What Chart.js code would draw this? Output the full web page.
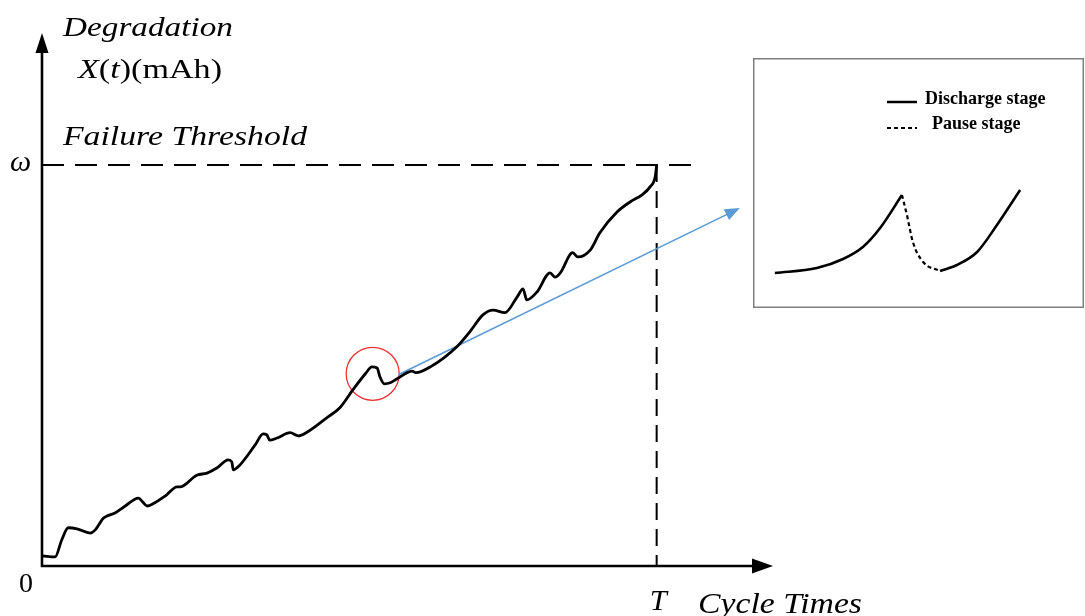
<!DOCTYPE html>
<html>
<head>
<meta charset="utf-8">
<script src="https://cdn.jsdelivr.net/npm/chart.js@4.4.1/dist/chart.umd.min.js"></script>
<style>
  html, body { margin: 0; padding: 0; background: #fff; overflow: hidden; }
  #wrap { position: relative; width: 1085px; height: 616px; }
  #main { position: absolute; left: 0; top: 0; }
  #inset { position: absolute; left: 753px; top: 58px; }
</style>
</head>
<body>
<div id="wrap">
  <canvas id="main" width="1085" height="616"></canvas>
  <canvas id="inset" width="331" height="250"></canvas>
</div>
<script>
// main degradation path (cycle units 0-100, degradation units 0-100)
const cycles = [0.1, 1.8, 2.7, 3.6, 4.8, 6.6, 7.3, 8.4, 8.9, 10.0, 11.4, 13.2, 13.7, 14.4, 15.2,
  16.9, 18.5, 18.9, 21.2, 22.6, 24.0, 25.5, 26.0, 26.2, 27.1, 29.2, 30.3, 30.8, 31.2, 32.2,
  34.0, 35.1, 36.3, 39.0, 40.8, 42.6, 44.3, 45.2, 45.9, 46.3, 46.9, 47.7, 48.8, 50.0, 50.7,
  51.2, 53.2, 56.9, 58.6, 60.4, 61.8, 63.4, 65.1, 65.9, 66.4, 67.8, 69.6, 70.3, 71.0, 72.7,
  73.4, 75.1, 76.4, 78.8, 80.6, 82.2, 83.3, 84.0, 84.2];
const degradation = [1.9, 1.7, 4.9, 7.2, 7.0, 6.2, 6.8, 9.0, 9.4, 10.0, 11.3, 12.8, 12.2, 11.3, 11.7,
  13.2, 14.9, 14.9, 17.1, 17.5, 18.5, 20.0, 19.6, 18.1, 19.0, 22.8, 24.9, 24.7, 23.7, 24.1,
  25.1, 24.5, 25.2, 27.9, 29.8, 33.2, 36.2, 37.5, 37.3, 35.6, 34.3, 34.5, 35.4, 36.4, 36.7,
  36.4, 37.5, 41.4, 44.1, 47.3, 48.2, 47.7, 50.7, 52.2, 50.1, 51.6, 55.2, 54.4, 55.2, 59.0,
  58.2, 59.5, 62.7, 66.7, 68.6, 69.9, 71.4, 73.3, 75.5];
const threshold = 75.5;     // omega
const failureCycle = 84.2;  // T

// inset sketch (its own 0-100 units)
const dischargeAX = [6.6, 19.3, 27.2, 33.2, 38.4, 45.0];
const dischargeAY = [14.0, 16.0, 19.6, 24.4, 32.0, 45.2];
const pauseX = [45.0, 46.5, 48.3, 51.4, 56.5];
const pauseY = [45.2, 37.2, 26.4, 18.4, 14.8];
const dischargeBX = [56.5, 61.6, 67.7, 73.7, 80.7];
const dischargeBY = [14.8, 17.2, 22.4, 33.2, 47.2];

const pts = (xs, ys) => xs.map((x, i) => ({ x: x, y: ys[i] }));
const serif = '"Liberation Serif", "Times New Roman", serif';

function arrowHead(ctx, tipX, tipY, angle, len, half) {
    ctx.save();
    ctx.translate(tipX, tipY);
    ctx.rotate(angle);
    ctx.beginPath();
    ctx.moveTo(0, 0);
    ctx.lineTo(-len, -half);
    ctx.lineTo(-len, half);
    ctx.closePath();
    ctx.fill();
    ctx.restore();
}

// draw runs of [text, italic] stretched sideways to a given width
function stretched(ctx, runs, x, base, size, width) {
    const fontOf = it => (it ? 'italic ' : '') + size + 'px ' + serif;
    let natural = 0;
    runs.forEach(([s, it]) => { ctx.font = fontOf(it); natural += ctx.measureText(s).width; });
    ctx.save();
    ctx.translate(x, base);
    ctx.scale(width / natural, 1);
    let cx = 0;
    runs.forEach(([s, it]) => {
        ctx.font = fontOf(it);
        ctx.fillText(s, cx, 0);
        cx += ctx.measureText(s).width;
    });
    ctx.restore();
}

const schematic = {
    id: 'schematic',
    beforeDatasetsDraw(chart) {
        const { ctx, scales: { x, y } } = chart;
        const x0 = x.getPixelForValue(0);
        const yw = y.getPixelForValue(threshold);
        const xT = x.getPixelForValue(failureCycle);
        ctx.save();
        ctx.strokeStyle = '#000';
        ctx.lineWidth = 2;
        // failure threshold
        ctx.setLineDash([22, 11]);
        ctx.beginPath();
        ctx.moveTo(x0, yw);
        ctx.lineTo(x.getPixelForValue(88.9), yw);
        ctx.stroke();
        // failure time
        ctx.setLineDash([17, 9]);
        ctx.beginPath();
        ctx.moveTo(xT, yw);
        ctx.lineTo(xT, y.getPixelForValue(0));
        ctx.stroke();
        ctx.setLineDash([]);

        // red circle round the pause bump
        ctx.strokeStyle = '#ee3030';
        ctx.lineWidth = 1.3;
        ctx.beginPath();
        ctx.arc(x.getPixelForValue(45.3), y.getPixelForValue(36.2), 26.5, 0, Math.PI * 2);
        ctx.stroke();

        // blue pointer to the inset
        const sx = x.getPixelForValue(48.8), sy = y.getPixelForValue(36.0);
        const ex = x.getPixelForValue(95.6), ey = y.getPixelForValue(67.4);
        const ang = Math.atan2(ey - sy, ex - sx);
        ctx.strokeStyle = '#5b9bd5';
        ctx.fillStyle = '#5b9bd5';
        ctx.lineWidth = 1.6;
        ctx.beginPath();
        ctx.moveTo(sx, sy);
        ctx.lineTo(ex - 12 * Math.cos(ang), ey - 12 * Math.sin(ang));
        ctx.stroke();
        arrowHead(ctx, ex, ey, ang, 15, 6);
        ctx.restore();
    },
    afterDraw(chart) {
        const { ctx, chartArea: a, scales: { x, y } } = chart;
        const x0 = x.getPixelForValue(0);
        const y0 = y.getPixelForValue(0);
        ctx.save();
        ctx.strokeStyle = '#000';
        ctx.fillStyle = '#000';
        ctx.lineWidth = 2.6;
        ctx.beginPath();
        ctx.moveTo(x0, y0 + 1.3);
        ctx.lineTo(x0, a.top + 16);
        ctx.moveTo(x0 - 1.3, y0);
        ctx.lineTo(a.right - 18, y0);
        ctx.stroke();
        arrowHead(ctx, x0, a.top - 2, -Math.PI / 2, 20, 6.5);
        arrowHead(ctx, a.right + 1, y0, 0, 21, 7.5);

        // labels
        ctx.textBaseline = 'alphabetic';
        ctx.textAlign = 'left';
        stretched(ctx, [['Degradation', true]], 63, 36, 28, 170);
        stretched(ctx, [['X', true], ['(', false], ['t', true], [')(mAh)', false]], 78, 78, 28, 144);
        stretched(ctx, [['Failure Threshold', true]], 63, 145, 28, 244);
        stretched(ctx, [['Cycle Times', true]], 698, 613, 29, 164);
        stretched(ctx, [['T', true]], x.getPixelForValue(failureCycle) - 7, 610, 29, 17);

        ctx.font = 'italic 30px ' + serif;
        ctx.fillText('\u03c9', 10, y.getPixelForValue(threshold) + 6);
        ctx.font = '28px ' + serif;
        ctx.fillText('0', 19, 592);
        ctx.restore();
    }
};

new Chart(document.getElementById('main'), {
    type: 'line',
    data: {
        datasets: [{
            data: pts(cycles, degradation),
            borderColor: '#000',
            borderWidth: 2.8,
            pointRadius: 0,
            cubicInterpolationMode: 'monotone',
            fill: false
        }]
    },
    options: {
        responsive: false,
        animation: false,
        events: [],
        layout: { padding: { left: 42, right: 313, top: 35, bottom: 50 } },
        scales: {
            x: { type: 'linear', min: 0, max: 100, display: false },
            y: { min: 0, max: 100, display: false }
        },
        plugins: { legend: { display: false }, tooltip: { enabled: false } }
    },
    plugins: [schematic]
});

const insetDecor = {
    id: 'insetDecor',
    afterDraw(chart) {
        const { ctx, width, height } = chart;
        ctx.save();
        ctx.strokeStyle = '#7f7f7f';
        ctx.lineWidth = 1.5;
        ctx.strokeRect(0.75, 0.75, width - 1.5, height - 1.5);

        ctx.strokeStyle = '#000';
        ctx.lineWidth = 2.5;
        ctx.beginPath();
        ctx.moveTo(134, 44);
        ctx.lineTo(164, 44);
        ctx.stroke();
        ctx.lineWidth = 2;
        ctx.setLineDash([4, 3]);
        ctx.beginPath();
        ctx.moveTo(134, 70);
        ctx.lineTo(164, 70);
        ctx.stroke();
        ctx.setLineDash([]);

        ctx.fillStyle = '#000';
        ctx.font = 'bold 18px ' + serif;
        ctx.fillText('Discharge stage', 172, 46);
        ctx.fillText('Pause stage', 179, 71);
        ctx.restore();
    }
};

const sketchLine = (data, dash, w) => ({
    data: data,
    borderColor: '#000',
    borderWidth: w,
    borderDash: dash,
    pointRadius: 0,
    cubicInterpolationMode: 'monotone',
    fill: false
});

new Chart(document.getElementById('inset'), {
    type: 'line',
    data: {
        datasets: [
            sketchLine(pts(dischargeAX, dischargeAY), [], 2.6),
            sketchLine(pts(pauseX, pauseY), [4, 3], 2.2),
            sketchLine(pts(dischargeBX, dischargeBY), [], 2.6)
        ]
    },
    options: {
        responsive: false,
        animation: false,
        events: [],
        layout: { padding: 0 },
        scales: {
            x: { type: 'linear', min: 0, max: 100, display: false },
            y: { min: 0, max: 100, display: false }
        },
        plugins: { legend: { display: false }, tooltip: { enabled: false } }
    },
    plugins: [insetDecor]
});
</script>
</body>
</html>
